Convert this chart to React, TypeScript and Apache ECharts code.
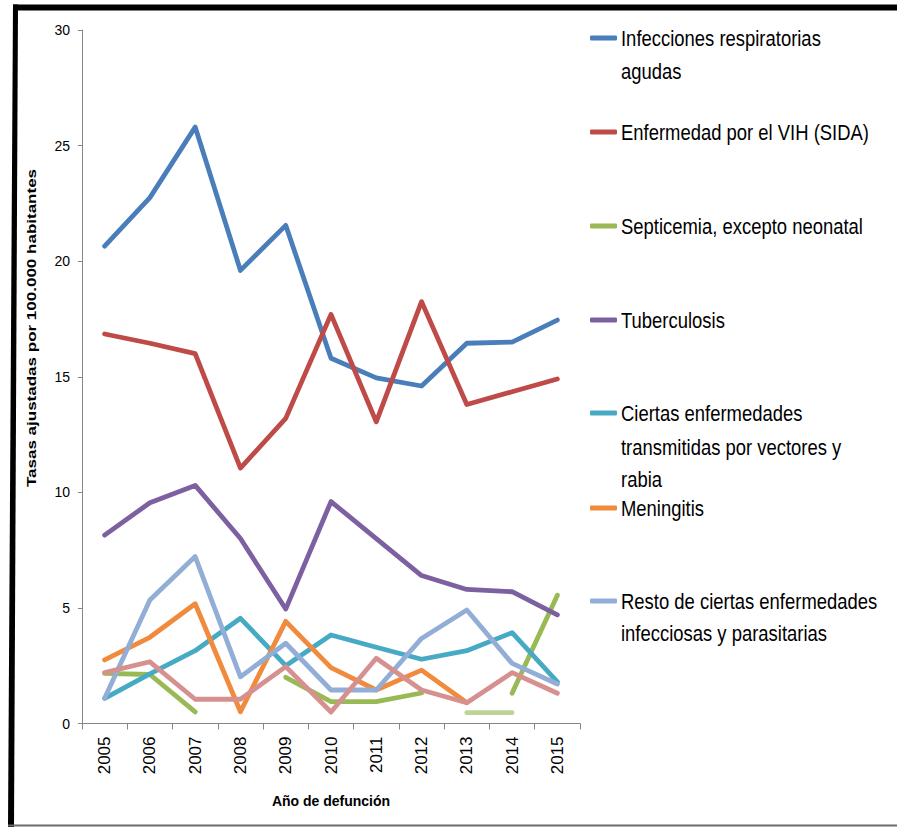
import React, { useEffect, useRef } from "react";
import * as echarts from "echarts";

// Años de defunción
const years = ["2005", "2006", "2007", "2008", "2009", "2010", "2011", "2012", "2013", "2014", "2015"];

// Tasas ajustadas por 100.000 habitantes
const infeccionesRespiratorias = [20.65, 22.75, 25.8, 19.6, 21.55, 15.8, 14.95, 14.6, 16.45, 16.5, 17.45];
const vihSida = [16.85, 16.45, 16.0, 11.05, 13.2, 17.7, 13.05, 18.25, 13.8, 14.35, 14.9];
const septicemia = [2.17, 2.12, 0.5, null, 2.0, 0.95, 0.95, 1.32, null, 1.31, 5.55];
const tuberculosis = [8.15, 9.55, 10.3, 8.0, 4.95, 9.6, 8.0, 6.4, 5.8, 5.7, 4.7];
const vectoresRabia = [1.09, 2.15, 3.15, 4.55, 2.5, 3.83, 3.3, 2.78, 3.15, 3.93, 1.8];
const meningitis = [2.75, 3.73, 5.18, 0.51, 4.42, 2.42, 1.45, 2.31, 0.9, null, null];
const restoInfecciosas = [1.09, 5.34, 7.22, 2.02, 3.47, 1.45, 1.45, 3.68, 4.91, 2.6, 1.71];
const serie8 = [2.2, 2.67, 1.05, 1.05, 2.46, 0.5, 2.82, 1.45, 0.9, 2.2, 1.31];
const serie9 = [null, null, null, null, null, null, null, null, 0.47, 0.47, null];

const yTicks = { min: 0, max: 30, interval: 5 };

const seriesNames = [
  "Infecciones respiratorias agudas",
  "Enfermedad por el VIH (SIDA)",
  "Septicemia, excepto neonatal",
  "Tuberculosis",
  "Ciertas enfermedades transmitidas por vectores y rabia",
  "Meningitis",
  "Resto de ciertas enfermedades infecciosas y parasitarias",
  "Serie 8",
  "Serie 9",
];

// Texto de la leyenda, partido en renglones
const legendLines = [
  ["Infecciones respiratorias", "agudas"],
  ["Enfermedad por el VIH (SIDA)"],
  ["Septicemia, excepto neonatal"],
  ["Tuberculosis"],
  ["Ciertas enfermedades", "transmitidas por vectores y", "rabia"],
  ["Meningitis"],
  ["Resto de ciertas enfermedades", "infecciosas y parasitarias"],
];

// Layout of the legend rows (pixel centre of each text line)
const legendRowY = [[38, 71], [132], [226], [320], [413, 447, 479], [508], [601, 633]];

const colors = ["#4A7EBB", "#BE4B48", "#98B954", "#7D60A0", "#46AAC5", "#F08A3C", "#93AED6", "#D6908F", "#BDD496"];

const SANS = "'Liberation Sans', Arial, sans-serif";

export default function App() {
  const ref = useRef<HTMLDivElement>(null);

  useEffect(() => {
    if (!ref.current) return;
    const chart = echarts.init(ref.current, undefined, { renderer: "svg" });
    const data = [
      infeccionesRespiratorias,
      vihSida,
      septicemia,
      tuberculosis,
      vectoresRabia,
      meningitis,
      restoInfecciosas,
      serie8,
      serie9,
    ];

    // one legend block per entry: the key line; labels are set as condensed text beside it
    const legends = legendLines.map((_, i) => ({
      show: true,
      data: [seriesNames[i]],
      left: 590,
      top: legendRowY[i][0] - 2.5,
      padding: 0,
      icon: "roundRect",
      itemWidth: 27,
      itemHeight: 5,
      itemGap: 0,
      selectedMode: false,
      formatter: () => "",
      textStyle: { fontSize: 1, lineHeight: 1 },
    }));

    const legendTexts: any[] = [];
    legendLines.forEach((lines, i) => {
      lines.forEach((t, j) => {
        legendTexts.push({
          type: "text",
          x: 621,
          y: legendRowY[i][j],
          scaleX: 0.82,
          style: {
            text: t,
            fontFamily: SANS,
            fontSize: 22.5,
            fill: "#000",
            align: "left",
            verticalAlign: "middle",
          },
        });
      });
    });

    chart.setOption({
      animation: false,
      backgroundColor: "#fff",
      color: colors,
      grid: { left: 82, right: 317, top: 30, bottom: 103.5, containLabel: false },
      legend: legends,
      xAxis: {
        type: "category",
        data: years,
        boundaryGap: true,
        name: "Año de defunción",
        nameLocation: "middle",
        nameGap: 70,
        nameTextStyle: { fontFamily: SANS, fontWeight: "bold", fontSize: 14, color: "#000" },
        axisLine: { lineStyle: { color: "#868686", width: 1 } },
        axisTick: { show: true, length: 6, interval: 0, lineStyle: { color: "#868686" } },
        axisLabel: { rotate: 90, margin: 13, interval: 0, fontFamily: SANS, fontSize: 17, color: "#000" },
        splitLine: { show: false },
      },
      yAxis: {
        type: "value",
        min: yTicks.min,
        max: yTicks.max,
        interval: yTicks.interval,
        axisLine: { show: true, lineStyle: { color: "#868686", width: 1 } },
        axisTick: { show: true, length: 4, lineStyle: { color: "#868686" } },
        axisLabel: { margin: 12, fontFamily: SANS, fontSize: 14, color: "#000" },
        splitLine: { show: false },
      },
      graphic: [
        // marco
        { type: "rect", shape: { x: 13, y: 4.5, width: 884, height: 6 }, style: { fill: "#000" }, silent: true },
        {
          type: "polygon",
          shape: { points: [[13, 4.5], [18, 4.5], [14, 827], [8, 827]] },
          style: { fill: "#000" },
          silent: true,
        },
        { type: "rect", shape: { x: 8, y: 824.5, width: 889, height: 2 }, style: { fill: "#6b6b6b" }, silent: true },
        {
          type: "text",
          x: 31,
          y: 328,
          rotation: Math.PI / 2,
          scaleX: 1.31,
          style: {
            text: "Tasas ajustadas por 100.000 habitantes",
            fontFamily: SANS,
            fontWeight: "bold",
            fontSize: 13,
            fill: "#000",
            align: "center",
            verticalAlign: "middle",
          },
        },
        ...legendTexts,
      ],
      series: data.map((d, i) => ({
        name: seriesNames[i],
        type: "line",
        data: d,
        symbol: "none",
        connectNulls: false,
        lineStyle: { width: 4.8, color: colors[i], cap: "round", join: "round" },
        itemStyle: { color: colors[i] },
        z: 2 + i,
      })),
    });

    return () => chart.dispose();
  }, []);

  return (
    <div
      ref={ref}
      style={{ position: "fixed", left: 0, top: 0, width: 897, height: 827 }}
    />
  );
}
